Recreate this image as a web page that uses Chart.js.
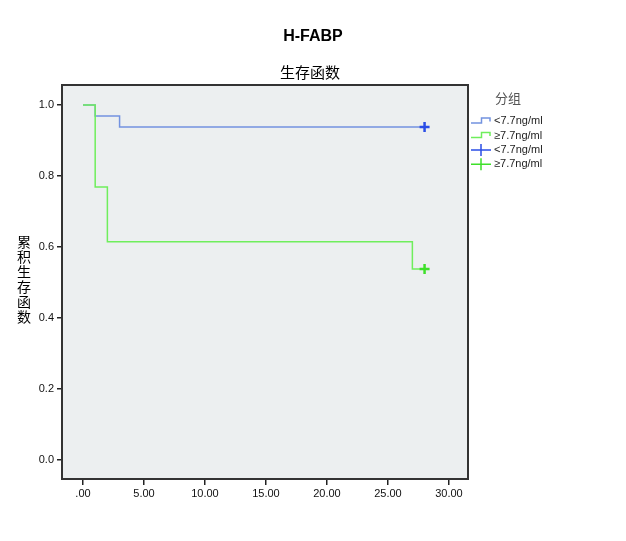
<!DOCTYPE html>
<html>
<head>
<meta charset="utf-8">
<script src="https://cdn.jsdelivr.net/npm/chart.js@4.4.1/dist/chart.umd.min.js"></script>
<style>
  body { margin: 0; background: #fff; }
  #wrap { width: 626px; height: 541px; }
</style>
</head>
<body>
<div id="wrap"><canvas id="kmChart" width="626" height="541"></canvas></div>
<script>
// Datos (tiempo, supervivencia acumulada)
const blueTimes = [0, 1, 3, 28];
const blueSurv = [1.0, 0.969, 0.938, 0.938];
const greenTimes = [0, 1, 2, 27, 28];
const greenSurv = [1.0, 0.769, 0.615, 0.538, 0.538];
// Casos censurados
const blueCensorTimes = [28];
const blueCensorSurv = [0.938];
const greenCensorTimes = [28];
const greenCensorSurv = [0.538];

const xTicks = [0, 5, 10, 15, 20, 25, 30];
const xTickLabels = ['.00', '5.00', '10.00', '15.00', '20.00', '25.00', '30.00'];
const yTicks = [0, 0.2, 0.4, 0.6, 0.8, 1.0];
const yTickLabels = ['0.0', '0.2', '0.4', '0.6', '0.8', '1.0'];

const groupLabels = ['<7.7ng/ml', '≥7.7ng/ml'];
const chartTitle = 'H-FABP';
const chartSubtitle = '生存函数';
const yAxisTitle = '累积生存函数';
const legendTitle = '分组';

const blueLine = '#7393e0';
const greenLine = '#6fee5c';
const blueMark = '#2a4ee6';
const greenMark = '#3ee02a';

function toPoints(xs, ys) {
    return xs.map((x, i) => ({ x: x, y: ys[i] }));
}

// Fondo y marco del área del gráfico
const framePlugin = {
    id: 'frame',
    beforeDraw(chart) {
        const { ctx, chartArea: a } = chart;
        ctx.save();
        ctx.fillStyle = '#eceff0';
        ctx.fillRect(a.left, a.top, a.right - a.left, a.bottom - a.top);
        ctx.restore();
    },
    afterDraw(chart) {
        const { ctx, chartArea: a } = chart;
        ctx.save();
        ctx.strokeStyle = '#333';
        ctx.lineWidth = 2;
        ctx.strokeRect(a.left, a.top, a.right - a.left, a.bottom - a.top);
        ctx.restore();
    }
};

// Títulos, etiqueta vertical del eje y leyenda estilo SPSS
const textPlugin = {
    id: 'texts',
    afterDraw(chart) {
        const ctx = chart.ctx;
        ctx.save();
        ctx.textAlign = 'center';
        ctx.textBaseline = 'middle';
        ctx.fillStyle = '#000';
        ctx.font = 'bold 16px "Liberation Sans", Arial, sans-serif';
        ctx.fillText(chartTitle, 313, 37);
        ctx.font = '15px "Noto Sans CJK SC", sans-serif';
        ctx.fillText(chartSubtitle, 310, 72);

        // etiqueta vertical
        ctx.font = '14px "Noto Sans CJK SC", sans-serif';
        [...yAxisTitle].forEach((ch, i) => {
            ctx.fillText(ch, 24, 242 + i * 14.9);
        });

        // leyenda
        ctx.textAlign = 'left';
        ctx.fillStyle = '#555';
        ctx.font = '13px "Noto Sans CJK SC", sans-serif';
        ctx.fillText(legendTitle, 495, 98);

        const rows = [121, 135.5, 150, 164.3];
        const colors = [blueLine, greenLine, blueMark, greenMark];
        ctx.font = '11px "Liberation Sans", Arial, sans-serif';
        rows.forEach((y, i) => {
            ctx.strokeStyle = colors[i];
            ctx.beginPath();
            if (i < 2) {
                ctx.lineWidth = 1.5;
                ctx.moveTo(471, y + 2);
                ctx.lineTo(481.5, y + 2);
                ctx.lineTo(481.5, y - 3);
                ctx.lineTo(490, y - 3);
                ctx.lineTo(490, y + 0.5);
            } else {
                ctx.lineWidth = 1.5;
                ctx.moveTo(471, y);
                ctx.lineTo(491, y);
                ctx.moveTo(481, y - 6);
                ctx.lineTo(481, y + 6);
            }
            ctx.stroke();
            ctx.fillStyle = '#222';
            ctx.fillText(groupLabels[i % 2], 494, y);
        });
        ctx.restore();
    }
};

const ctxKM = document.getElementById('kmChart').getContext('2d');
const kmChart = new Chart(ctxKM, {
    type: 'line',
    data: {
        datasets: [
            {
                type: 'scatter',
                label: groupLabels[0] + ' censurado',
                data: toPoints(blueCensorTimes, blueCensorSurv),
                pointStyle: 'cross',
                pointRadius: 5,
                borderWidth: 2.5,
                borderColor: blueMark,
                backgroundColor: blueMark
            },
            {
                type: 'scatter',
                label: groupLabels[1] + ' censurado',
                data: toPoints(greenCensorTimes, greenCensorSurv),
                pointStyle: 'cross',
                pointRadius: 5,
                borderWidth: 2.5,
                borderColor: greenMark,
                backgroundColor: greenMark
            },
            {
                label: groupLabels[1],
                data: toPoints(greenTimes, greenSurv),
                stepped: true,
                borderColor: greenLine,
                borderWidth: 1.5,
                pointRadius: 0,
                fill: false
            },
            {
                label: groupLabels[0],
                data: toPoints(blueTimes, blueSurv),
                stepped: true,
                borderColor: blueLine,
                borderWidth: 1.5,
                pointRadius: 0,
                fill: false
            }
        ]
    },
    options: {
        responsive: false,
        animation: false,
        layout: { padding: { top: 85, right: 158, left: 0, bottom: 0 } },
        plugins: {
            legend: { display: false },
            tooltip: { enabled: false },
            title: { display: false }
        },
        scales: {
            x: {
                type: 'linear',
                min: -1.72,
                max: 31.56,
                afterFit: (scale) => { scale.height = 62; },
                afterBuildTicks: (scale) => { scale.ticks = xTicks.map(v => ({ value: v })); },
                border: { display: false },
                grid: { drawOnChartArea: false, drawTicks: true, tickLength: 6, color: '#222', lineWidth: 1.5 },
                ticks: {
                    padding: 2,
                    color: '#111',
                    font: { family: '"Liberation Sans", Arial, sans-serif', size: 11 },
                    callback: (value) => xTickLabels[xTicks.indexOf(value)],
                    maxRotation: 0
                }
            },
            y: {
                type: 'linear',
                min: -0.0535,
                max: 1.0563,
                afterFit: (scale) => { scale.width = 62; },
                afterBuildTicks: (scale) => { scale.ticks = yTicks.map(v => ({ value: v })); },
                border: { display: false },
                grid: { drawOnChartArea: false, drawTicks: true, tickLength: 5, color: '#222', lineWidth: 1.5 },
                ticks: {
                    padding: 3,
                    color: '#111',
                    font: { family: '"Liberation Sans", Arial, sans-serif', size: 11 },
                    callback: (value) => yTickLabels[yTicks.findIndex(v => Math.abs(v - value) < 1e-6)]
                }
            }
        }
    },
    plugins: [framePlugin, textPlugin]
});
</script>
</body>
</html>
